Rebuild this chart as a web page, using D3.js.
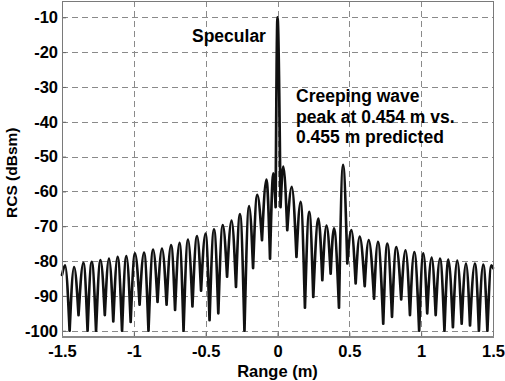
<!DOCTYPE html>
<html><head><meta charset="utf-8">
<script src="https://cdn.jsdelivr.net/npm/d3@7"></script>
<style>
html,body{margin:0;padding:0;background:#fff;}
text{font-family:"Liberation Sans",Arial,sans-serif;font-weight:bold;fill:#000;}
</style></head>
<body>
<svg id="chart" width="505" height="381"></svg>
<script>
// ---- data ----
const xTicks = [-1.5, -1, -0.5, 0, 0.5, 1, 1.5];
const xTickLabels = ["-1.5", "-1", "-0.5", "0", "0.5", "1", "1.5"];
const yTicks = [-10, -20, -30, -40, -50, -60, -70, -80, -90, -100];
const yTickLabels = ["-10", "-20", "-30", "-40", "-50", "-60", "-70", "-80", "-90", "-100"];

// null (minimum) points of the RCS range profile, metres / dBsm
const nullX = [-1.5, -1.447, -1.385, -1.322, -1.263, -1.202, -1.143, -1.082, -1.022, -0.960, -0.898,
  -0.835, -0.772, -0.713, -0.654, -0.592, -0.532, -0.473, -0.412, -0.351, -0.289, -0.230, -0.170,
  -0.108, -0.052, -0.013, 0.021, 0.068, 0.132, 0.191, 0.249, 0.312, 0.370, 0.428, 0.486, 0.544,
  0.607, 0.672, 0.736, 0.797, 0.861, 0.922, 0.986, 1.042, 1.101, 1.162, 1.221, 1.282, 1.340,
  1.402, 1.461, 1.5];
const nullDb = [-84, -100, -95.5, -100, -100, -95.5, -97.3, -100, -97.5, -92.5, -100,
  -91.7, -92.5, -94, -100, -93, -88.5, -97, -95, -84.5, -87.4, -100, -82,
  -74, -79.3, -64.5, -64.5, -71.1, -78.8, -93.4, -90.3, -85.5, -83.6, -93.4, -80.7, -86.4,
  -87.2, -90.8, -98, -96, -91, -95.5, -100, -95, -95.5, -100, -99, -98, -98.5,
  -100, -100, -82];
// lobe peaks (one between each pair of nulls)
const peakX = [-1.479, -1.416, -1.351, -1.293, -1.232, -1.173, -1.113, -1.052, -0.992, -0.929,
  -0.866, -0.804, -0.741, -0.682, -0.623, -0.560, -0.501, -0.442, -0.381, -0.320, -0.261, -0.198,
  -0.141, -0.077, -0.029, 0.0, 0.040, 0.099, 0.161, 0.221, 0.285, 0.341, 0.393, 0.456, 0.514,
  0.572, 0.635, 0.699, 0.764, 0.827, 0.891, 0.952, 1.015, 1.073, 1.131, 1.189, 1.251, 1.312,
  1.374, 1.432, 1.489];
const peakDb = [-81.2, -81.7, -80.5, -80.2, -79.7, -79.3, -78.8, -78.6, -77.8, -77.6,
  -76.7, -76.4, -75.4, -74.8, -73.8, -72.8, -72.1, -70.9, -69.7, -68.4, -66.5, -64.2,
  -61, -56.6, -54.8, -10, -52.9, -58.7, -63, -65.9, -67.8, -69.8, -70.6, -52.4, -71.1,
  -73, -74, -74.5, -75, -76, -76.9, -77.4, -77.8, -79, -79.3, -79.6, -79.9, -80.7,
  -80.7, -81, -81.2];

const annotSpecular = "Specular";
const annotCreeping = ["Creeping wave", "peak at 0.454 m vs.", "0.455 m predicted"];
const xLabel = "Range (m)";
const yLabel = "RCS (dBsm)";

// ---- drawing ----
const svg = d3.select("#chart");
const L = 62, R = 493, T = 1, B = 336.5;
const x = d3.scaleLinear().domain([-1.5, 1.5]).range([L, R]);
const y = d3.scaleLinear().domain([-101.66, -5.32]).range([B, T]);

// grid
const grid = svg.append("g").attr("stroke", "#8a8a8a").attr("stroke-width", 1)
  .attr("stroke-dasharray", "6,4").attr("fill", "none");
yTicks.forEach(v => grid.append("line").attr("x1", L).attr("x2", R)
  .attr("y1", Math.round(y(v)) + 0.5).attr("y2", Math.round(y(v)) + 0.5));
xTicks.filter(v => v > -1.5 && v < 1.5).forEach(v => grid.append("line")
  .attr("x1", Math.round(x(v)) + 0.5).attr("x2", Math.round(x(v)) + 0.5).attr("y1", T).attr("y2", B));

// axes with library axis generators (labels, small inward ticks)
const xAxis = d3.axisBottom(x).tickValues(xTicks).tickFormat((d, i) => xTickLabels[i])
  .tickSizeInner(-4).tickSizeOuter(0).tickPadding(9);
const yAxis = d3.axisLeft(y).tickValues(yTicks).tickFormat((d, i) => yTickLabels[i])
  .tickSizeInner(-4).tickSizeOuter(0).tickPadding(4);
const gx = svg.append("g").attr("transform", `translate(0,${B})`).call(xAxis);
const gy = svg.append("g").attr("transform", `translate(${L},0)`).call(yAxis);
[gx, gy].forEach(g => {
  g.select(".domain").remove();
  g.selectAll(".tick line").attr("stroke", "#666");
  g.selectAll(".tick text").style("font-size", "16.5px").style("font-weight", "bold")
    .attr("fill", "#000").style("font-family", "'Liberation Sans', Arial, sans-serif");
});

// curve: each lobe null -> peak -> null drawn as its own monotone segment
const line = d3.line().x(d => x(d[0])).y(d => y(d[1])).curve(d3.curveMonotoneX);
const pathD = peakX.map((px, i) => line([[nullX[i], nullDb[i]], [px, peakDb[i]], [nullX[i + 1], nullDb[i + 1]]])).join("");
svg.append("path").attr("d", pathD).attr("fill", "none").attr("stroke", "#111")
  .attr("stroke-width", 2.7).attr("stroke-linejoin", "round").attr("stroke-linecap", "round");

// box
svg.append("rect").attr("x", L + 0.5).attr("y", T + 0.5).attr("width", R - L).attr("height", B - T)
  .attr("fill", "none").attr("stroke", "#7a7a7a").attr("stroke-width", 1);
svg.append("line").attr("x1", L).attr("x2", R + 1).attr("y1", B + 0.5).attr("y2", B + 0.5)
  .attr("stroke", "#888").attr("stroke-width", 2);

// annotations
svg.append("text").attr("x", 192).attr("y", 42).style("font-size", "17.5px").text(annotSpecular);
svg.append("text").attr("x", 296).attr("y", 102).style("font-size", "17.5px")
  .selectAll("tspan").data(annotCreeping).join("tspan")
  .attr("x", 296).attr("dy", (d, i) => i === 0 ? 0 : 20.5).text(d => d);

// axis titles
svg.append("text").attr("x", (L + R) / 2).attr("y", 377).attr("text-anchor", "middle")
  .style("font-size", "16.5px").text(xLabel);
svg.append("text").attr("transform", `translate(17,${(T + B) / 2 + 4}) rotate(-90)`)
  .attr("text-anchor", "middle").style("font-size", "15.5px").text(yLabel);
</script>
</body></html>
